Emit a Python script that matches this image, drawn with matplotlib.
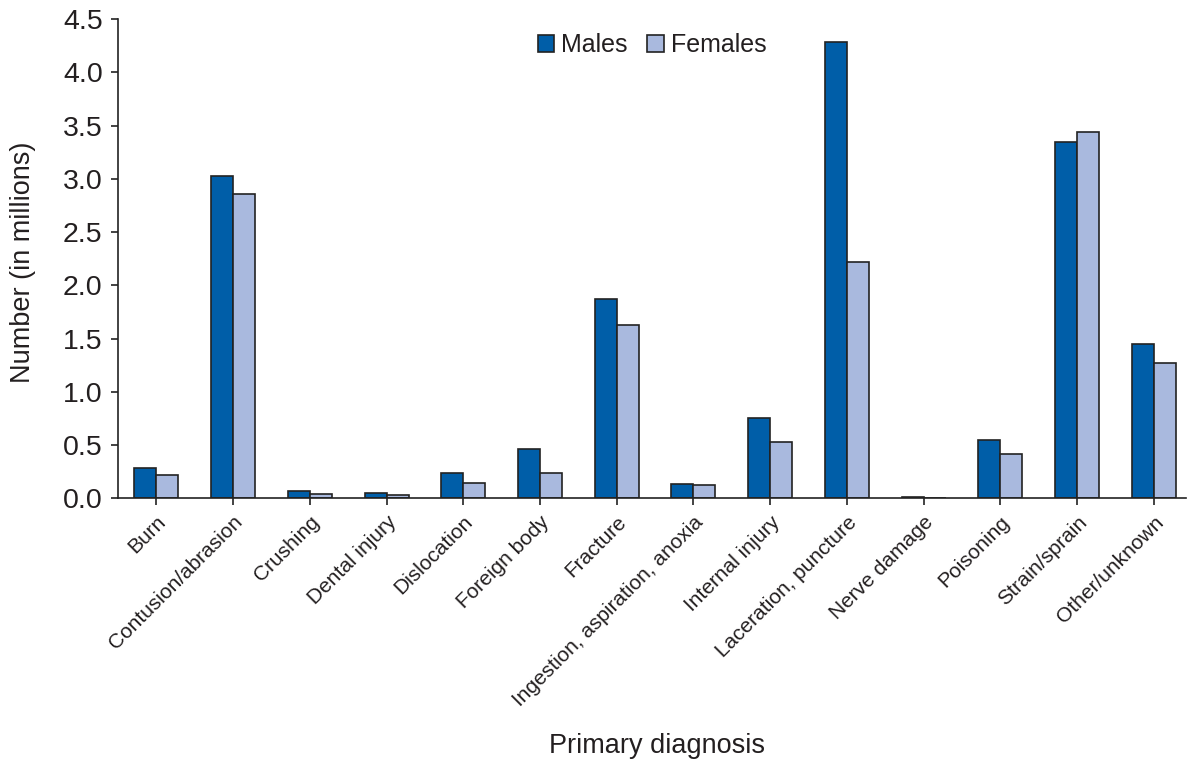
import matplotlib
matplotlib.use("Agg")
import matplotlib.pyplot as plt
import numpy as np

categories = ["Burn", "Contusion/abrasion", "Crushing", "Dental injury", "Dislocation",
              "Foreign body", "Fracture", "Ingestion, aspiration, anoxia", "Internal injury",
              "Laceration, puncture", "Nerve damage", "Poisoning", "Strain/sprain", "Other/unknown"]
males = [0.29, 3.03, 0.075, 0.053, 0.24, 0.46, 1.875, 0.138, 0.76, 4.28, 0.01, 0.55, 3.35, 1.45]
females = [0.225, 2.86, 0.04, 0.03, 0.145, 0.24, 1.63, 0.127, 0.53, 2.22, 0.005, 0.42, 3.44, 1.27]
yticks = [0.0, 0.5, 1.0, 1.5, 2.0, 2.5, 3.0, 3.5, 4.0, 4.5]

plt.rcParams['font.family'] = ['Liberation Sans', 'DejaVu Sans']
txt = "#231F20"

fig = plt.figure(figsize=(11.88, 7.66), dpi=100)
ax = fig.add_axes([118/1188, 1 - 498.5/766, (1186-118)/1188, (498.5-19)/766])

x = np.arange(len(categories))
w = 0.287
ax.bar(x - w/2, males, w, color="#005EA8", edgecolor="#222222", linewidth=1.2, label="Males")
ax.bar(x + w/2, females, w, color="#A9B9DE", edgecolor="#222222", linewidth=1.2, label="Females")

ax.set_xlim(-0.5, 13.42)
ax.set_ylim(0, 4.5)
ax.set_yticks(yticks)
ax.set_yticklabels([f"{v:.1f}" for v in yticks], fontsize=20.5, color=txt)
ax.set_xticks(x)
ax.set_xticklabels(categories, rotation=45, ha="right", rotation_mode="anchor",
                   fontsize=15, color=txt)
ax.tick_params(axis="both", direction="out", length=5, width=1.2, color="#222222")
ax.tick_params(axis="x", pad=5)
ax.tick_params(axis="y", pad=6)
for s in ["top", "right"]:
    ax.spines[s].set_visible(False)
for s in ["left", "bottom"]:
    ax.spines[s].set_linewidth(1.2)
    ax.spines[s].set_color("#222222")

fig.text(23/1188, 1 - 262/766, "Number (in millions)", fontsize=19.5, color=txt,
         rotation=90, ha="center", va="center")
fig.text(657/1188, 1 - 746/766, "Primary diagnosis", fontsize=19.5, color=txt,
         ha="center", va="center")

leg = ax.legend(loc="center", bbox_to_anchor=(652/1068 - 118/1068, (498.5-45)/479.5),
                ncol=2, frameon=False,
                fontsize=18, handlelength=0.65, handleheight=0.65, handletextpad=0.28,
                columnspacing=0.8, borderaxespad=0.0, borderpad=0.0)
for t in leg.get_texts():
    t.set_color(txt)

fig.savefig("out.png", dpi=100)
